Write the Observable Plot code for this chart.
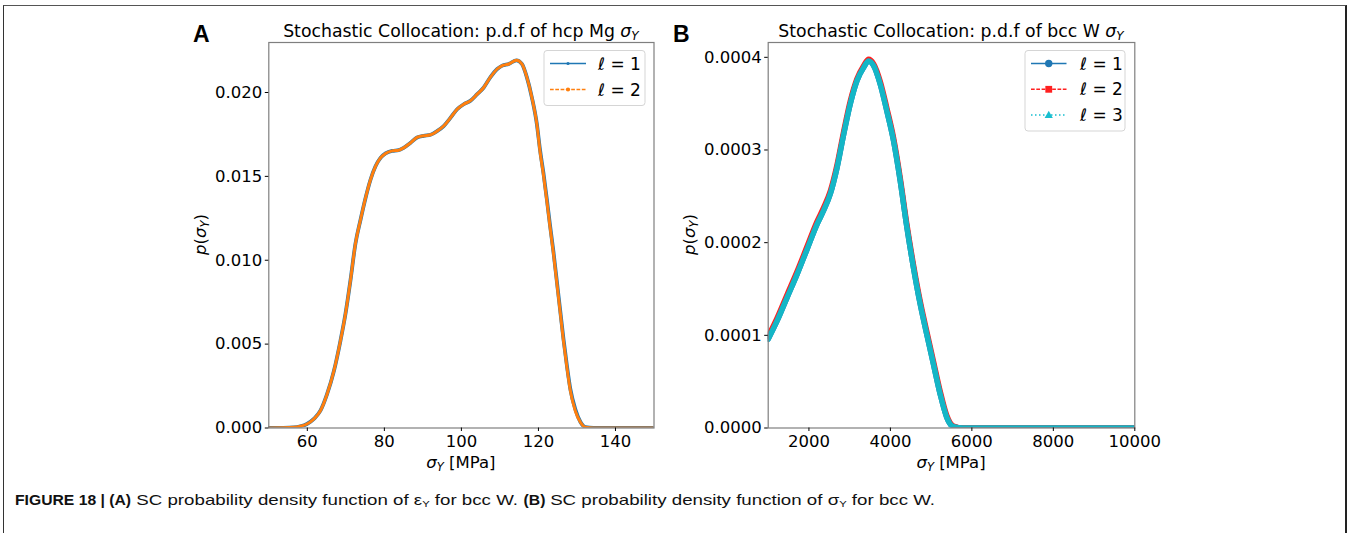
<!DOCTYPE html>
<html><head><meta charset="utf-8">
<script src="https://cdn.jsdelivr.net/npm/d3@7"></script>
<script src="https://cdn.jsdelivr.net/npm/@observablehq/plot@0.6"></script>
<style>
body{margin:0;width:1351px;height:533px;overflow:hidden;background:#fff;position:relative;font-family:"DejaVu Sans",sans-serif;}
#frame{position:absolute;left:3px;top:5px;width:1341px;height:600px;border-left:1px solid #333;border-top:1.5px solid #555;border-right:2px solid #222;}
#caption{position:absolute;left:15px;top:491px;white-space:nowrap;font-family:"Liberation Sans Narrow","Liberation Sans",Arial,sans-serif;font-size:15px;line-height:17px;color:#111;transform-origin:0 0;}
#caption sub{font-size:9px;vertical-align:-2px;line-height:0;}
#caption b{display:inline-block;transform-origin:0 0;}
svg.panel{position:absolute;top:0;overflow:visible;}
</style></head><body>
<div id="frame"></div>
<div id="caption"><b>FIGURE 18 | (A)</b> SC probability density function of ε<sub>Y</sub> for bcc W. <b>(B)</b> SC probability density function of σ<sub>Y</sub> for bcc W.</div>
<script>
// ---- Panel A: hcp Mg, sigma_Y [MPa] ----
const mgX  = [50, 56.5, 58.2, 59.9, 61.7, 63.4, 65.1, 66.9, 68.6, 69.9, 71.2, 72.5, 73.8, 75.1, 76.4, 77.7, 79.0, 80.3, 82.0, 83.7, 85.0, 86.8, 88.5, 90.2, 92.0, 93.7, 95.4, 97.1, 98.9, 100.6, 102.3, 104.1, 105.8, 107.5, 109.3, 110.6, 112.3, 114.3, 115.7, 117.0, 118.3, 119.6, 120.4, 121.3, 122.2, 123.0, 123.9, 124.8, 125.7, 126.5, 127.4, 128.3, 129.6, 130.9, 132.2, 134.3, 150];
const mgL1 = [0, 0.00004, 0.0001, 0.00024, 0.00054, 0.00103, 0.0020, 0.0034, 0.0052, 0.0068, 0.0088, 0.0110, 0.0124, 0.0137, 0.0148, 0.0156, 0.0161, 0.01637, 0.01652, 0.01656, 0.0167, 0.0170, 0.01732, 0.01742, 0.01748, 0.0177, 0.0180, 0.01847, 0.0190, 0.0193, 0.0195, 0.0199, 0.0203, 0.0209, 0.0214, 0.0216, 0.0217, 0.02192, 0.0217, 0.0209, 0.0197, 0.0181, 0.0166, 0.0152, 0.0136, 0.0121, 0.0105, 0.0087, 0.0069, 0.0053, 0.0037, 0.0023, 0.0011, 0.00036, 0.00005, 0, 0];
const mgL2 = [0, 0.00004, 0.0001, 0.00024, 0.00054, 0.00103, 0.0020, 0.0034, 0.0052, 0.0068, 0.0088, 0.0110, 0.0124, 0.0137, 0.0148, 0.0156, 0.0161, 0.01637, 0.01652, 0.01656, 0.0167, 0.0170, 0.01732, 0.01742, 0.01748, 0.0177, 0.0180, 0.01847, 0.0190, 0.0193, 0.0195, 0.0199, 0.0203, 0.0209, 0.0214, 0.0216, 0.0217, 0.02192, 0.0217, 0.0209, 0.0197, 0.0181, 0.0165, 0.0151, 0.0135, 0.0120, 0.0104, 0.0086, 0.0068, 0.0052, 0.0036, 0.0022, 0.0010, 0.00034, 0.00004, 0, 0];
const mgXTicks = [60, 80, 100, 120, 140];
const mgYTicks = [0, 0.005, 0.010, 0.015, 0.020];
const mgXDomain = [50, 150];
const mgYDomain = [0, 0.02298];

// ---- Panel B: bcc W, sigma_Y [MPa] ----
const wX  = [1000, 1220, 1465, 1710, 1955, 2200, 2363, 2527, 2690, 2853, 3016, 3180, 3343, 3465, 3588, 3751, 3914, 4078, 4241, 4404, 4567, 4731, 4894, 5057, 5220, 5384, 5547, 5792, 6500, 8000, 10000];
const wL1 = [0.0000960, 0.0001158, 0.000141, 0.000166, 0.000193, 0.000220, 0.000235, 0.000253, 0.000281, 0.000317, 0.000350, 0.000375, 0.000389, 0.000396, 0.000391, 0.000371, 0.000342, 0.000310, 0.000267, 0.000217, 0.000173, 0.000134, 0.000101, 0.000069, 0.000037, 0.0000115, 0.0000014, 0, 0, 0, 0];
const wL2 = [0.0000990, 0.0001188, 0.000144, 0.000169, 0.000196, 0.000223, 0.000238, 0.000256, 0.000284, 0.000320, 0.000353, 0.000377, 0.000391, 0.000398, 0.000393, 0.000374, 0.000345, 0.000313, 0.000270, 0.000220, 0.000176, 0.000137, 0.000104, 0.000072, 0.000040, 0.0000135, 0.0000022, 0, 0, 0, 0];
const wL3 = [0.0000960, 0.0001158, 0.000141, 0.000166, 0.000193, 0.000220, 0.000235, 0.000253, 0.000281, 0.000317, 0.000350, 0.000375, 0.000389, 0.000396, 0.000391, 0.000371, 0.000342, 0.000310, 0.000267, 0.000217, 0.000173, 0.000134, 0.000101, 0.000069, 0.000037, 0.0000115, 0.0000014, 0, 0, 0, 0];
const wXTicks = [2000, 4000, 6000, 8000, 10000];
const wYTicks = [0, 0.0001, 0.0002, 0.0003, 0.0004];
const wXDomain = [1000, 10000];
const wYDomain = [0, 0.000416];

const titles = ["Stochastic Collocation: p.d.f of hcp Mg ", "Stochastic Collocation: p.d.f of bcc W "];
const legendLabels = ["1", "2", "3"];

const FS = 16.5;
const mk = (xs, ys) => xs.map((x, i) => ({x, y: ys[i]}));

function makePanel(o) {
  const svg = Plot.plot({
    width: o.width, height: 480,
    marginLeft: o.ml, marginRight: o.mr, marginTop: 42, marginBottom: 52.5,
    style: {fontFamily: "DejaVu Sans", fontSize: FS + "px", color: "#000", background: "transparent", overflow: "visible"},
    x: {domain: o.xd}, y: {domain: o.yd},
    marks: [
      ...o.lines.map(l => Plot.line(l.data, {x: "x", y: "y", stroke: l.color, strokeWidth: l.w, curve: "monotone-x", clip: true})),
      Plot.frame({stroke: "#7f7f7f", strokeWidth: 1.2}),
      Plot.axisX({ticks: o.xt, tickFormat: d3.format("d"), tickSize: 3.5, tickPadding: 3.5, label: null, fontSize: FS}),
      Plot.axisY({ticks: o.yt, tickFormat: d3.format(o.yf), tickSize: 3.5, tickPadding: 3, label: null, fontSize: FS})
    ]
  });
  svg.classList.add("panel");
  svg.style.left = o.left + "px";
  document.body.appendChild(svg);
  const g = d3.select(svg).append("g").attr("font-family", "DejaVu Sans").attr("fill", "#000").attr("text-anchor", "start");
  const cx = o.ml + (o.width - o.ml - o.mr) / 2;
  // panel letter
  g.append("text").attr("x", o.letterX).attr("y", 41.5).attr("font-family", "Liberation Sans, Arial, sans-serif")
    .attr("font-weight", "bold").attr("font-size", 23).text(o.letter);
  // title
  const t = g.append("text").attr("x", cx).attr("y", 36.5).attr("text-anchor", "middle").attr("font-size", 17.3);
  t.append("tspan").text(o.title);
  t.append("tspan").attr("font-style", "italic").text("σ");
  t.append("tspan").attr("font-style", "italic").attr("font-size", 12).attr("dy", 3).text("Y");
  // x label
  const xl = g.append("text").attr("x", cx).attr("y", 468).attr("text-anchor", "middle").attr("font-size", FS);
  xl.append("tspan").attr("font-style", "italic").text("σ");
  xl.append("tspan").attr("font-style", "italic").attr("font-size", 11.5).attr("dy", 3).text("Y");
  xl.append("tspan").attr("dy", -3).text(" [MPa]");
  // y label
  const yl = g.append("text").attr("transform", `translate(${o.ylabX},234.5) rotate(-90)`).attr("text-anchor", "middle").attr("font-size", FS);
  yl.append("tspan").attr("font-style", "italic").text("p");
  yl.append("tspan").text("(");
  yl.append("tspan").attr("font-style", "italic").text("σ");
  yl.append("tspan").attr("font-style", "italic").attr("font-size", 11.5).attr("dy", 3).text("Y");
  yl.append("tspan").attr("dy", -3).text(")");
  // legend
  const L = o.legend;
  g.append("rect").attr("x", L.x).attr("y", L.y).attr("width", L.w).attr("height", L.h).attr("rx", 3)
    .attr("fill", "#fff").attr("fill-opacity", 0.8).attr("stroke", "#d5d5d5");
  L.rows.forEach((r, i) => {
    const y = L.y0 + i * L.dy;
    g.append("line").attr("x1", L.hx1).attr("x2", L.hx2).attr("y1", y).attr("y2", y)
      .attr("stroke", r.color).attr("stroke-width", 1.5).attr("stroke-dasharray", r.dash || null);
    const mx = (L.hx1 + L.hx2) / 2;
    if (r.marker === "dot") g.append("circle").attr("cx", mx).attr("cy", y).attr("r", r.size).attr("fill", r.color);
    if (r.marker === "circle") g.append("circle").attr("cx", mx).attr("cy", y).attr("r", 3.7).attr("fill", r.color);
    if (r.marker === "square") g.append("rect").attr("x", mx - 3.4).attr("y", y - 3.4).attr("width", 6.8).attr("height", 6.8).attr("fill", r.color);
    if (r.marker === "triangle") g.append("path").attr("d", `M${mx},${y-4.3}L${mx+4.1},${y+3}L${mx-4.1},${y+3}Z`).attr("fill", r.color);
    const tx = g.append("text").attr("x", L.tx).attr("y", y + 6).attr("text-anchor", "start").attr("font-size", FS + 0.5);
    tx.append("tspan").attr("font-style", "italic").text("ℓ");
    tx.append("tspan").text(" = " + r.label);
  });
}

makePanel({
  left: 180, width: 490, ml: 88.3, mr: 16.5,
  xd: mgXDomain, yd: mgYDomain, xt: mgXTicks, yt: mgYTicks, yf: ".3f",
  letter: "A", letterX: 13, title: titles[0], ylabX: 206 - 180,
  lines: [
    {data: mk(mgX, mgL1), color: "#1f77b4", w: 3.8},
    {data: mk(mgX, mgL2), color: "#ff7f0e", w: 3.0}
  ],
  legend: {x: 544 - 180, y: 50.5, w: 101, h: 55, y0: 63.5, dy: 26, hx1: 550 - 180, hx2: 586 - 180, tx: 598 - 180,
    rows: [
      {color: "#1f77b4", marker: "dot", size: 1.6, label: legendLabels[0]},
      {color: "#ff7f0e", marker: "dot", size: 2.1, dash: "3.7,1.6", label: legendLabels[1]}
    ]}
});

makePanel({
  left: 660, width: 490, ml: 107.7, mr: 15.7,
  xd: wXDomain, yd: wYDomain, xt: wXTicks, yt: wYTicks, yf: ".4f",
  letter: "B", letterX: 13, title: titles[1], ylabX: 695 - 660,
  lines: [
    {data: mk(wX, wL1), color: "#1f77b4", w: 5.5},
    {data: mk(wX, wL2), color: "#ff2020", w: 5.5},
    {data: mk(wX, wL3), color: "#14b6c6", w: 5.5}
  ],
  legend: {x: 1025 - 660, y: 50.5, w: 100, h: 80.5, y0: 63.5, dy: 25.8, hx1: 1031 - 660, hx2: 1066.5 - 660, tx: 1080 - 660,
    rows: [
      {color: "#1f77b4", marker: "circle", label: legendLabels[0]},
      {color: "#ff2020", marker: "square", dash: "3.7,1.6", label: legendLabels[1]},
      {color: "#17becf", marker: "triangle", dash: "1.5,2.5", label: legendLabels[2]}
    ]}
});

// caption: condense bold runs, then fit total width
const cap = document.getElementById("caption");
cap.querySelectorAll("b").forEach(b => {
  const w = b.getBoundingClientRect().width;
  const k = 0.84;
  b.style.transform = `scaleX(${k})`;
  b.style.marginRight = (-(1 - k) * w) + "px";
});
const cw = cap.getBoundingClientRect().width;
cap.style.transform = `scaleX(${920 / cw})`;
</script>
</body></html>
